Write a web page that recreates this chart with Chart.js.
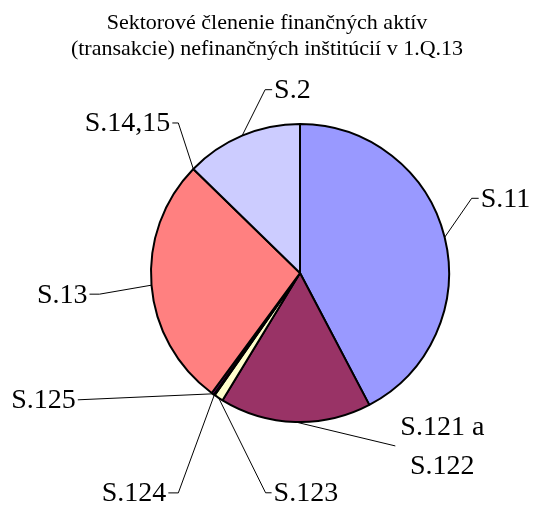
<!DOCTYPE html>
<html>
<head>
<meta charset="utf-8">
<script src="https://cdn.jsdelivr.net/npm/chart.js@4"></script>
<style>
  html, body { margin: 0; padding: 0; background: #ffffff; }
  #wrap { width: 534px; height: 508px; position: relative; }
</style>
</head>
<body>
<div id="wrap"><canvas id="sectorChart"></canvas></div>
<script>
// Chart data
const titleLines = ['Sektorové členenie finančných aktív', '(transakcie) nefinančných inštitúcií v 1.Q.13'];
const categories = [['S.11'], ['S.121 a', 'S.122'], ['S.123'], ['S.124'], ['S.125'], ['S.13'], ['S.14,15'], ['S.2']];
const shares = [42.3, 16.4, 1.0, 0.1, 0.3, 27.2, 0, 12.7];
const sliceColors = ['#9999ff', '#993366', '#ffffcc', '#ccffff', '#660066', '#ff8080', '#0066cc', '#ccccff'];

// leader line elbow, relative to the slice's outer edge at mid angle
const labelPlacement = [
    { dx: 27, dy: -39, side: 'right', tick: 7 },
    { dx: 100, dy: 24, side: 'right', tick: 0, gap: 5 },
    { dx: 47, dy: 95, side: 'right', tick: 6 },
    { dx: -36, dy: 98, side: 'left', tick: 10 },
    { dx: -135, dy: 6, side: 'left', tick: 0 },
    { dx: -52, dy: 9, side: 'left', tick: 10 },
    { dx: -15, dy: -46, side: 'left', tick: 6 },
    { dx: 23, dy: -46, side: 'right', tick: 7 }
];

const serif = "'Liberation Serif', 'Times New Roman', serif";

const leaderLabels = {
    id: 'leaderLabels',
    afterDraw(chart) {
        const ctx = chart.ctx;
        const arcs = chart.getDatasetMeta(0).data;
        ctx.save();

        // title
        ctx.fillStyle = '#000';
        ctx.font = '22px ' + serif;
        ctx.textAlign = 'center';
        ctx.textBaseline = 'middle';
        titleLines.forEach((t, i) => ctx.fillText(t, chart.width / 2, 23 + i * 26));

        ctx.font = '28px ' + serif;
        ctx.strokeStyle = '#000';
        ctx.lineWidth = 1;
        arcs.forEach((arc, i) => {
            const p = arc.getProps(['x', 'y', 'startAngle', 'endAngle', 'outerRadius'], true);
            const mid = (p.startAngle + p.endAngle) / 2;
            const ex = p.x + Math.cos(mid) * p.outerRadius;
            const ey = p.y + Math.sin(mid) * p.outerRadius;
            const pl = labelPlacement[i];
            const bx = ex + pl.dx;
            const by = ey + pl.dy;
            const dir = pl.side === 'right' ? 1 : -1;
            const tx = bx + dir * pl.tick;

            ctx.beginPath();
            ctx.moveTo(ex, ey);
            ctx.lineTo(bx, by);
            ctx.lineTo(tx, by);
            ctx.stroke();

            const lines = categories[i];
            const gap = pl.gap || 2;
            const w = Math.max(...lines.map(l => ctx.measureText(l).width));
            const cx = tx + dir * (gap + w / 2);
            const lh = 39;
            ctx.textAlign = 'center';
            lines.forEach((l, k) => {
                ctx.fillText(l, cx, by + (k - (lines.length - 1) / 2) * lh + 1);
            });
        });
        ctx.restore();
    }
};

const ctx = document.getElementById('sectorChart').getContext('2d');
const sectorChart = new Chart(ctx, {
    type: 'pie',
    data: {
        labels: categories.map(c => c.join(' ')),
        datasets: [{
            data: shares,
            backgroundColor: sliceColors,
            borderColor: '#000000',
            borderWidth: 2,
            borderAlign: 'center'
        }]
    },
    options: {
        responsive: true,
        maintainAspectRatio: false,
        animation: false,
        layout: {
            padding: { top: 123, bottom: 85, left: 150, right: 84 }
        },
        plugins: {
            legend: { display: false },
            title: { display: false },
            tooltip: { enabled: false }
        }
    },
    plugins: [leaderLabels]
});
</script>
</body>
</html>
